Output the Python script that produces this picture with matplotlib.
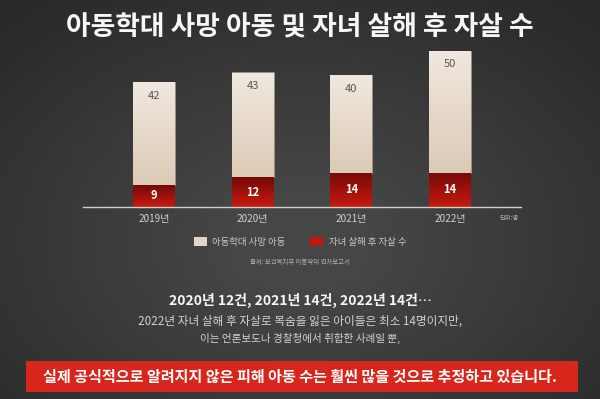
import numpy as np
import matplotlib
matplotlib.use("Agg")
import matplotlib.pyplot as plt
from matplotlib.patches import Rectangle, Patch
from matplotlib.colors import LinearSegmentedColormap

plt.rcParams['font.family'] = ['Noto Sans CJK KR', 'DejaVu Sans']

# -----------------------------------
# Data
# -----------------------------------
years = ["2019년", "2020년", "2021년", "2022년"]
abuse_deaths = [42, 43, 40, 50]
murder_suicide = [9, 12, 14, 14]
series_names = ["아동학대 사망 아동", "자녀 살해 후 자살 수"]

title = "아동학대 사망 아동 및 자녀 살해 후 자살 수"
source = "출처: 보건복지부 아동학대 연차보고서"
unit = "단위:명"
line1 = "2020년 12건, 2021년 14건, 2022년 14건…"
line2 = "2022년 자녀 살해 후 자살로 목숨을 잃은 아이들은 최소 14명이지만,"
line3 = "이는 언론보도나 경찰청에서 취합한 사례일 뿐,"
banner = "실제 공식적으로 알려지지 않은 피해 아동 수는 훨씬 많을 것으로 추정하고 있습니다."

W, H = 600, 399
fig = plt.figure(figsize=(6, 3.99), dpi=100)

# -----------------------------------
# Background (dark vignette)
# -----------------------------------
bg = fig.add_axes([0, 0, 1, 1])
bg.set_axis_off()
yy, xx = np.mgrid[0:H, 0:W]
r = np.sqrt(((xx - 300) / 480.0) ** 2 + ((yy - 240) / 340.0) ** 2)
shade = np.clip(1 - r, 0, 1)
bg_cmap = LinearSegmentedColormap.from_list("bg", ["#292929", "#464646"])
bg.imshow(shade, cmap=bg_cmap, extent=[0, W, H, 0], aspect="auto", vmin=0.1, vmax=0.85)
bg.set_xlim(0, W)
bg.set_ylim(H, 0)

# -----------------------------------
# Bar chart
# -----------------------------------
base_px = 206.7
ymax = 66
ax_h = ymax * 2.44
ax = fig.add_axes([83 / W, 1 - base_px / H, 438 / W, ax_h / H])
ax.patch.set_alpha(0)

x = np.arange(len(years))
bw = 0.425
red_bars = ax.bar(x, murder_suicide, width=bw, color="#b5160d", zorder=2)
beige_bars = ax.bar(x, abuse_deaths, width=bw, bottom=murder_suicide,
                    color="#e4d6c6", edgecolor="#9a948e", linewidth=0.5, zorder=2)

beige_grad = LinearSegmentedColormap.from_list("beige", ["#f0e8df", "#dccab5"])
red_grad = LinearSegmentedColormap.from_list("red", ["#740a06", "#c81a0f"])
grad = np.linspace(0, 1, 100).reshape(-1, 1)
for bars, cmap in ((red_bars, red_grad), (beige_bars, beige_grad)):
    for p in bars:
        x0, y0 = p.get_x(), p.get_y()
        im = ax.imshow(grad, cmap=cmap, aspect="auto", zorder=2.5,
                       extent=[x0, x0 + p.get_width(), y0, y0 + p.get_height()],
                       origin="upper")
        im.set_clip_path(p)

for i in range(len(years)):
    top = murder_suicide[i] + abuse_deaths[i]
    ax.annotate(str(abuse_deaths[i]), (x[i], top), xytext=(0, -10), textcoords="offset points",
                ha="center", va="center", fontsize=8, color="#5a5550", zorder=4)
    ax.text(x[i], murder_suicide[i] / 2, str(murder_suicide[i]), ha="center", va="center",
            fontsize=8, fontweight="bold", color="white", zorder=4)

ax.set_xlim(-0.72, 3.72)
ax.set_ylim(0, ymax)
ax.set_xticks(x)
ax.set_xticklabels(years, fontsize=7.2, color="#cfcfcf")
ax.tick_params(axis="x", length=0, pad=5)
ax.set_yticks([])
for s in ("top", "left", "right"):
    ax.spines[s].set_visible(False)
ax.spines["bottom"].set_color("#d0d0d0")
ax.spines["bottom"].set_linewidth(1.0)
ax.spines["bottom"].set_zorder(5)

# -----------------------------------
# Texts
# -----------------------------------
fig.text(0.5, 1 - 27 / H, title, ha="center", va="center", fontsize=19.3,
         fontweight="heavy", color="#f7f7f7")
fig.text(509 / W, 1 - 218 / H, unit, ha="center", va="center", fontsize=4.5, color="#b8b8b8")

handles = [Patch(facecolor="#e4d6c6", edgecolor="none"),
           Patch(facecolor="#c0170e", edgecolor="none")]
fig.legend(handles, series_names, loc="center", bbox_to_anchor=(0.5, 1 - 242 / H), ncol=2,
           frameon=False, fontsize=6.8, labelcolor="#c8c8c8", handlelength=1.4,
           handleheight=1.0, handletextpad=0.55, columnspacing=2.6)
fig.text(0.5, 1 - 262 / H, source, ha="center", va="center", fontsize=4.6, color="#b0b0b0")

fig.text(0.5, 1 - 300 / H, line1, ha="center", va="center", fontsize=10,
         fontweight="bold", color="#f5f5f5")
fig.text(0.5, 1 - 321 / H, line2, ha="center", va="center", fontsize=8.4, color="#d2d2d2")
fig.text(0.5, 1 - 338 / H, line3, ha="center", va="center", fontsize=7.6, color="#d2d2d2")

bg.add_patch(Rectangle((26, 361), 552, 31, facecolor="#d7261b", edgecolor="none", zorder=3))
fig.text(0.5, 1 - 376.5 / H, banner, ha="center", va="center", fontsize=10.9,
         fontweight="bold", color="white")

fig.savefig("out.png", dpi=100)
